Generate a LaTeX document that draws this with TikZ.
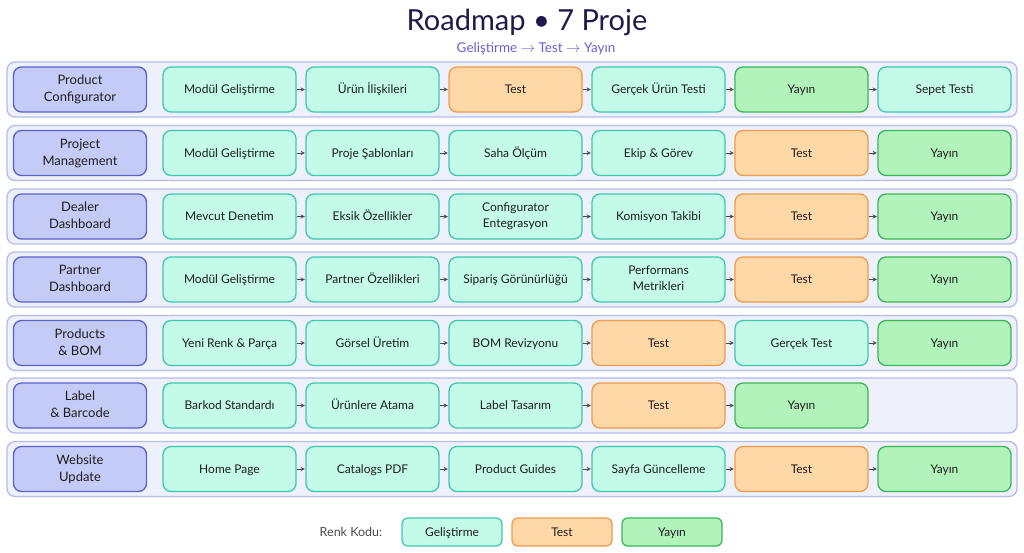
\documentclass[tikz,border=0pt]{standalone}
\usepackage{fontspec}
\setmainfont{Lato}
\usepackage{tikz}

\definecolor{bandfill}{HTML}{EEF0FB}
\definecolor{bandline}{HTML}{B4BCEB}
\definecolor{projfill}{HTML}{C5CBF7}
\definecolor{projline}{HTML}{5B61CC}
\definecolor{devfill}{HTML}{C3FAE8}
\definecolor{devline}{HTML}{3FC8AE}
\definecolor{tstfill}{HTML}{FFD8A8}
\definecolor{tstline}{HTML}{EE9A4D}
\definecolor{pubfill}{HTML}{B2F2BB}
\definecolor{publine}{HTML}{3CB556}
\definecolor{ink}{HTML}{1E1E1E}
\definecolor{titleink}{HTML}{1E1B4B}
\definecolor{subink}{HTML}{6B5FD3}
\definecolor{arrowc}{HTML}{4A4A4A}

\begin{document}
\begin{tikzpicture}[x=1pt,y=-1pt,
  band/.style={draw=bandline,fill=bandfill,rounded corners=8pt,line width=1.3pt,
    minimum width=1010pt,minimum height=55pt,inner sep=0pt},
  box/.style={rounded corners=8pt,line width=1.3pt,minimum width=133pt,
    minimum height=45pt,inner sep=0pt,align=center,text=ink,
    font=\fontsize{12}{16}\selectfont,
    execute at begin node={\vphantom{Ü}},execute at end node={\vphantom{g}}},
  proj/.style={box,draw=projline,fill=projfill,font=\fontsize{13}{17}\selectfont},
  dev/.style={box,draw=devline,fill=devfill},
  tst/.style={box,draw=tstline,fill=tstfill},
  pub/.style={box,draw=publine,fill=pubfill},
  key/.style={box,minimum width=100pt,minimum height=28pt,rounded corners=6pt},
  flow/.style={->,>=stealth,draw=arrowc,line width=0.9pt,shorten >=0.5pt}]
            \useasboundingbox (0,0) rectangle (1024,552);
            \draw (527,22) node[font=\fontsize{29}{31}\selectfont,text=titleink] (title) {Roadmap • 7 Proje};
            \draw (536,49) node[font=\fontsize{13.5}{14}\selectfont,text=subink] (sub) {Geliştirme $\rightarrow$ Test $\rightarrow$ Yayın};
            % Product Configurator
            \draw (512,89.5) node[band] (row1) {};
            \draw (80,89.5) node[proj] (pc) {Product\\Configurator};
            \draw (229.5,89.5) node[dev] (pc1) {Modül Geliştirme};
            \draw (372.5,89.5) node[dev] (pc2) {Ürün İlişkileri};
            \draw (515.5,89.5) node[tst] (pc3) {Test};
            \draw (658.5,89.5) node[dev] (pc4) {Gerçek Ürün Testi};
            \draw (801.5,89.5) node[pub] (pc5) {Yayın};
            \draw (944.5,89.5) node[dev] (pc6) {Sepet Testi};
            \draw[flow] (pc1)--(pc2);
            \draw[flow] (pc2)--(pc3);
            \draw[flow] (pc3)--(pc4);
            \draw[flow] (pc4)--(pc5);
            \draw[flow] (pc5)--(pc6);
            % Project Management
            \draw (512,153) node[band] (row2) {};
            \draw (80,153) node[proj] (pm) {Project\\Management};
            \draw (229.5,153) node[dev] (pm1) {Modül Geliştirme};
            \draw (372.5,153) node[dev] (pm2) {Proje Şablonları};
            \draw (515.5,153) node[dev] (pm3) {Saha Ölçüm};
            \draw (658.5,153) node[dev] (pm4) {Ekip \& Görev};
            \draw (801.5,153) node[tst] (pm5) {Test};
            \draw (944.5,153) node[pub] (pm6) {Yayın};
            \draw[flow] (pm1)--(pm2);
            \draw[flow] (pm2)--(pm3);
            \draw[flow] (pm3)--(pm4);
            \draw[flow] (pm4)--(pm5);
            \draw[flow] (pm5)--(pm6);
            % Dealer Dashboard
            \draw (512,216.5) node[band] (row3) {};
            \draw (80,216.5) node[proj] (dd) {Dealer\\Dashboard};
            \draw (229.5,216.5) node[dev] (dd1) {Mevcut Denetim};
            \draw (372.5,216.5) node[dev] (dd2) {Eksik Özellikler};
            \draw (515.5,216.5) node[dev] (dd3) {Configurator\\Entegrasyon};
            \draw (658.5,216.5) node[dev] (dd4) {Komisyon Takibi};
            \draw (801.5,216.5) node[tst] (dd5) {Test};
            \draw (944.5,216.5) node[pub] (dd6) {Yayın};
            \draw[flow] (dd1)--(dd2);
            \draw[flow] (dd2)--(dd3);
            \draw[flow] (dd3)--(dd4);
            \draw[flow] (dd4)--(dd5);
            \draw[flow] (dd5)--(dd6);
            % Partner Dashboard
            \draw (512,279.5) node[band] (row4) {};
            \draw (80,279.5) node[proj] (pd) {Partner\\Dashboard};
            \draw (229.5,279.5) node[dev] (pd1) {Modül Geliştirme};
            \draw (372.5,279.5) node[dev] (pd2) {Partner Özellikleri};
            \draw (515.5,279.5) node[dev] (pd3) {Sipariş Görünürlüğü};
            \draw (658.5,279.5) node[dev] (pd4) {Performans\\Metrikleri};
            \draw (801.5,279.5) node[tst] (pd5) {Test};
            \draw (944.5,279.5) node[pub] (pd6) {Yayın};
            \draw[flow] (pd1)--(pd2);
            \draw[flow] (pd2)--(pd3);
            \draw[flow] (pd3)--(pd4);
            \draw[flow] (pd4)--(pd5);
            \draw[flow] (pd5)--(pd6);
            % Products & BOM
            \draw (512,343) node[band] (row5) {};
            \draw (80,343) node[proj] (pb) {Products\\\& BOM};
            \draw (229.5,343) node[dev] (pb1) {Yeni Renk \& Parça};
            \draw (372.5,343) node[dev] (pb2) {Görsel Üretim};
            \draw (515.5,343) node[dev] (pb3) {BOM Revizyonu};
            \draw (658.5,343) node[tst] (pb4) {Test};
            \draw (801.5,343) node[dev] (pb5) {Gerçek Test};
            \draw (944.5,343) node[pub] (pb6) {Yayın};
            \draw[flow] (pb1)--(pb2);
            \draw[flow] (pb2)--(pb3);
            \draw[flow] (pb3)--(pb4);
            \draw[flow] (pb4)--(pb5);
            \draw[flow] (pb5)--(pb6);
            % Label & Barcode
            \draw (512,405.5) node[band] (row6) {};
            \draw (80,405.5) node[proj] (lb) {Label\\\& Barcode};
            \draw (229.5,405.5) node[dev] (lb1) {Barkod Standardı};
            \draw (372.5,405.5) node[dev] (lb2) {Ürünlere Atama};
            \draw (515.5,405.5) node[dev] (lb3) {Label Tasarım};
            \draw (658.5,405.5) node[tst] (lb4) {Test};
            \draw (801.5,405.5) node[pub] (lb5) {Yayın};
            \draw[flow] (lb1)--(lb2);
            \draw[flow] (lb2)--(lb3);
            \draw[flow] (lb3)--(lb4);
            \draw[flow] (lb4)--(lb5);
            % Website Update
            \draw (512,469) node[band] (row7) {};
            \draw (80,469) node[proj] (wu) {Website\\Update};
            \draw (229.5,469) node[dev] (wu1) {Home Page};
            \draw (372.5,469) node[dev] (wu2) {Catalogs PDF};
            \draw (515.5,469) node[dev] (wu3) {Product Guides};
            \draw (658.5,469) node[dev] (wu4) {Sayfa Güncelleme};
            \draw (801.5,469) node[tst] (wu5) {Test};
            \draw (944.5,469) node[pub] (wu6) {Yayın};
            \draw[flow] (wu1)--(wu2);
            \draw[flow] (wu2)--(wu3);
            \draw[flow] (wu3)--(wu4);
            \draw[flow] (wu4)--(wu5);
            \draw[flow] (wu5)--(wu6);
            % legend
            \draw (351,532) node[font=\fontsize{12.5}{14}\selectfont,text=arrowc] (keytitle) {Renk Kodu:};
            \draw (452,532) node[key,draw=devline,fill=devfill] (keydev) {Geliştirme};
            \draw (562,532) node[key,draw=tstline,fill=tstfill] (keytst) {Test};
            \draw (672,532) node[key,draw=publine,fill=pubfill] (keypub) {Yayın};
\end{tikzpicture}
\end{document}
